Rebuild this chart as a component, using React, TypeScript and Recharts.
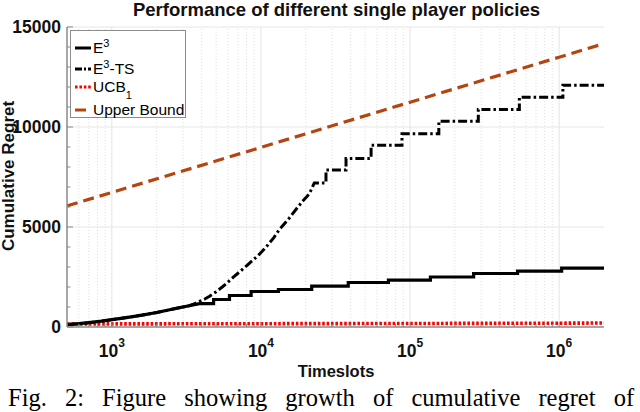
import React from "react";
import { LineChart, Line, XAxis, YAxis, ReferenceLine } from "recharts";

// axes
const xMajor = [1e3, 1e4, 1e5, 1e6];
const xMinor = [
  600, 700, 800, 900,
  2000, 3000, 4000, 5000, 6000, 7000, 8000, 9000,
  2e4, 3e4, 4e4, 5e4, 6e4, 7e4, 8e4, 9e4,
  2e5, 3e5, 4e5, 5e5, 6e5, 7e5, 8e5, 9e5,
];
const yTicks = [0, 1000, 2000, 3000, 4000, 5000, 6000, 7000, 8000, 9000, 10000, 11000, 12000, 13000, 14000, 15000];
const yGrid = [5000, 10000, 15000];
const tEnd = 2e6;

// both E3 variants share the start
const startT = [500, 600, 700, 850, 1000, 1250, 1600, 2000, 2400, 2800, 3300];
const startRegret = [120, 165, 215, 290, 365, 470, 595, 725, 850, 955, 1065];

// E3: staircase after ~4e3
const e3StepT = [3870, 4810, 6150, 8590, 13100, 21900, 38500, 71600, 137000, 267000, 526000, 1040000];
const e3StepRegret = [1170, 1375, 1575, 1775, 1875, 2040, 2225, 2340, 2500, 2675, 2790, 2940];

// E3-TS: steep rise, then staircase
const tsRiseT = [3600, 3870, 4200, 4520, 5000, 5500, 6000, 6500, 7200, 8000, 8800, 9770, 11000, 12200, 13300, 15500, 17700, 19500, 21100];
const tsRiseRegret = [1170, 1280, 1400, 1540, 1760, 2000, 2240, 2480, 2760, 3060, 3330, 3640, 4060, 4470, 4875, 5450, 6000, 6380, 6650];
const tsStepT = [22800, 27300, 37200, 54800, 88300, 156000, 287000, 541000, 1060000];
const tsStepRegret = [7200, 7850, 8430, 9090, 9660, 10290, 10875, 11490, 12090];

const ucbT = [500, 1000, 1e4, 1e5, 1e6, 2e6];
const ucbRegret = [150, 155, 165, 175, 190, 200];

const boundT = [500, 1e3, 1e4, 1e5, 1e6, 2e6];
const boundRegret = [6050, 6730, 8980, 11240, 13490, 14170];

const pts = (t: number[], v: number[]) => t.map((x, i) => ({ t: x, v: v[i] }));
const steps = (t: number[], v: number[], end: number) =>
  t.flatMap((x, i) => [
    { t: x, v: v[i] },
    { t: i + 1 < t.length ? t[i + 1] : end, v: v[i] },
  ]);

const e3Data = [...pts(startT, startRegret), ...steps(e3StepT, e3StepRegret, tEnd)];
const tsData = [...pts(startT, startRegret), ...pts(tsRiseT, tsRiseRegret), ...steps(tsStepT, tsStepRegret, tEnd)];
const ucbData = pts(ucbT, ucbRegret);
const boundData = pts(boundT, boundRegret);

const SANS = "'Liberation Sans', Arial, sans-serif";
const AXIS = "#8a8a8a";

function XTick(props: any) {
  const { x, y, payload } = props;
  const v = payload.value;
  const major = xMajor.includes(v);
  return (
    <g>
      <line x1={x} x2={x} y1={y} y2={y - (major ? 5 : 3)} stroke={AXIS} strokeWidth={1} />
      {major && (
        <text x={x} y={y + 30} textAnchor="middle" fontFamily={SANS} fontWeight="bold" fontSize={17.5} fill="#111">
          <tspan>10</tspan>
          <tspan dy={-10} fontSize={12}>{Math.round(Math.log10(v))}</tspan>
        </text>
      )}
    </g>
  );
}

function YTick(props: any) {
  const { x, y, payload } = props;
  const v = payload.value;
  const major = v % 5000 === 0;
  return (
    <g>
      <line x1={x} x2={x + (major ? 6 : 3.5)} y1={y} y2={y} stroke={AXIS} strokeWidth={1} />
      {major && (
        <text x={x - 6} y={y + 6} textAnchor="end" fontFamily={SANS} fontWeight="bold" fontSize={17.5} fill="#111">
          {v}
        </text>
      )}
    </g>
  );
}

function Sample({ stroke, dash, x2 = 16 }: { stroke: string; dash?: string; x2?: number }) {
  return (
    <svg width={16} height={20} style={{ marginRight: 2, flex: "none" }}>
      <line x1={0} x2={x2} y1={10} y2={10} stroke={stroke} strokeWidth={3} strokeDasharray={dash} />
    </svg>
  );
}

const rowStyle = (c: number): React.CSSProperties => ({
  position: "absolute",
  left: 4,
  top: c - 10,
  height: 20,
  display: "flex",
  alignItems: "center",
  fontFamily: SANS,
  fontSize: 15.5,
  color: "#000",
  whiteSpace: "nowrap",
});

export default function App() {
  return (
    <div style={{ position: "fixed", left: 0, top: 0, width: 640, height: 412, background: "#fff", overflow: "hidden" }}>
      <LineChart width={640} height={412} margin={{ top: 27, right: 36, left: 0, bottom: 45 }}>
        <XAxis
          dataKey="t"
          type="number"
          scale="log"
          domain={[500, tEnd]}
          allowDataOverflow
          ticks={[...xMinor, ...xMajor].sort((a, b) => a - b)}
          interval={0}
          tick={(p: any) => <XTick {...p} />}
          tickLine={false}
          tickSize={0}
          tickMargin={0}
          height={40}
          axisLine={{ stroke: AXIS, strokeWidth: 1.5 }}
        />
        <YAxis
          type="number"
          domain={[0, 15000]}
          ticks={yTicks}
          interval={0}
          tick={(p: any) => <YTick {...p} />}
          tickLine={false}
          tickSize={0}
          tickMargin={0}
          width={67}
          axisLine={{ stroke: AXIS, strokeWidth: 1.5 }}
        />
        {yGrid.map((v) => (
          <ReferenceLine key={"y" + v} y={v} stroke="#e6e6e6" strokeWidth={1} />
        ))}
        {xMinor.map((v) => (
          <ReferenceLine key={"m" + v} x={v} stroke="#dedede" strokeWidth={1} strokeDasharray="1 2" />
        ))}
        {xMajor.map((v) => (
          <ReferenceLine key={"M" + v} x={v} stroke="#e3e3e3" strokeWidth={1} />
        ))}
        <Line data={boundData} dataKey="v" type="linear" stroke="#b5450f" strokeWidth={3.2} strokeDasharray="11 6" dot={false} activeDot={false} isAnimationActive={false} />
        <Line data={ucbData} dataKey="v" type="linear" stroke="#ff0000" strokeWidth={3.6} strokeDasharray="2.6 1.8" dot={false} activeDot={false} isAnimationActive={false} />
        <Line data={tsData} dataKey="v" type="linear" stroke="#000" strokeWidth={3} strokeDasharray="9 3 2.5 3" dot={false} activeDot={false} isAnimationActive={false} />
        <Line data={e3Data} dataKey="v" type="linear" stroke="#000" strokeWidth={3.2} dot={false} activeDot={false} isAnimationActive={false} />
      </LineChart>

      <svg width={640} height={412} style={{ position: "absolute", left: 0, top: 0, pointerEvents: "none" }}>
        <text x={336.5} y={16} textAnchor="middle" fontFamily={SANS} fontWeight="bold" fontSize={18.5} fill="#111">
          Performance of different single player policies
        </text>
        <text x={336} y={377} textAnchor="middle" fontFamily={SANS} fontWeight="bold" fontSize={16.5} fill="#111">
          Timeslots
        </text>
        <text transform="translate(13.5,176) rotate(-90)" textAnchor="middle" fontFamily={SANS} fontWeight="bold" fontSize={17} fill="#111">
          Cumulative Regret
        </text>
        <text x={8} y={406} fontFamily="'Liberation Serif', 'Times New Roman', serif" fontSize={24.5} fill="#000" style={{ wordSpacing: 12 }}>
          Fig. 2: Figure showing growth of cumulative regret of
        </text>
      </svg>

      <div style={{ position: "absolute", left: 70, top: 30, width: 116, height: 88, boxSizing: "border-box", border: "1px solid #8c8c8c", background: "#fff" }}>
        <div style={rowStyle(17)}>
          <Sample stroke="#000" />
          <span>E<span style={{ fontSize: 11, position: "relative", top: -6 }}>3</span></span>
        </div>
        <div style={rowStyle(38)}>
          <Sample stroke="#000" dash="7 2 2 2" />
          <span>E<span style={{ fontSize: 11, position: "relative", top: -6 }}>3</span>-TS</span>
        </div>
        <div style={rowStyle(56)}>
          <Sample stroke="#ff0000" dash="2.6 1.8" />
          <span>UCB<span style={{ fontSize: 11, position: "relative", top: 7 }}>1</span></span>
        </div>
        <div style={rowStyle(79)}>
          <Sample stroke="#b5450f" x2={11} />
          <span>Upper Bound</span>
        </div>
      </div>
    </div>
  );
}
